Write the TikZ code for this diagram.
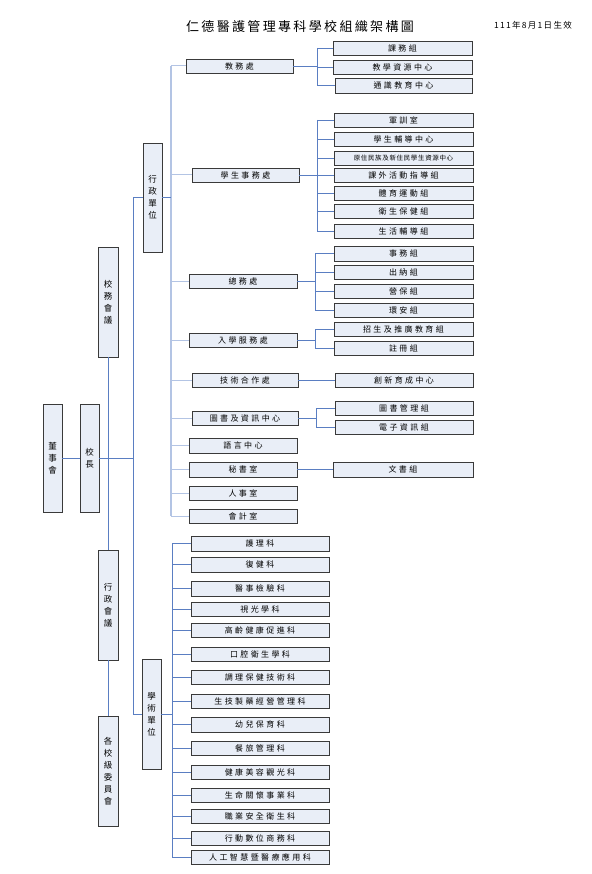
\documentclass[tikz,border=0pt]{standalone}
\usepackage{fontspec}
\setmainfont{Noto Sans CJK TC}
\definecolor{boxfill}{HTML}{E9EEF7}
\definecolor{lnblue}{HTML}{5A7EC2}
\definecolor{lnlight}{HTML}{B3C4E4}
\definecolor{bxedge}{HTML}{3A3A3A}
\newcommand\boxfont{\fontsize{8}{9}\selectfont\addfontfeature{LetterSpace=30}}
\newcommand\smallboxfont{\fontsize{6.5}{8}\selectfont\addfontfeature{LetterSpace=10}}
\newcommand\vfont{\fontsize{8.5}{12}\selectfont}
\newcommand\bx[7][]{\node[box,#1, minimum width={(#5-(#3))*1pt}, minimum height={(#6-(#4))*1pt}] (#2) at ({(#3+#5)/2},{(#4+#6)/2}) {#7};}
\begin{document}
\begin{tikzpicture}[x=1pt,y=-1pt,
  box/.style={draw=bxedge, fill=boxfill, line width=0.8pt, inner sep=0pt, font=\boxfont},
  vbox/.style={font=\vfont, align=center},
  conn/.style={draw=lnblue, line width=0.7pt},
  bus/.style={draw=lnlight, line width=1.5pt}]
\useasboundingbox (0,0) rectangle (591,874);
% titles
\node[font=\fontsize{13}{15}\selectfont\addfontfeature{LetterSpace=18}] (title) at (300,27) {仁德醫護管理專科學校組織架構圖};
\node[font=\fontsize{8.5}{10}\selectfont\addfontfeature{LetterSpace=15}] (date) at (533,25) {111年8月1日生效};
% left column
\bx[vbox]{dsh}{43}{404}{62}{512}{董\\事\\會}
\bx[vbox]{xz}{80}{404}{99}{512}{校\\長}
\bx[vbox]{xwh}{98}{247}{118}{357}{校\\務\\會\\議}
\bx[vbox]{xzh}{98}{550}{118}{660}{行\\政\\會\\議}
\bx[vbox]{gxj}{98}{716}{118}{826}{各\\校\\級\\委\\員\\會}
\bx[vbox]{xzd}{143}{143}{162}{252}{行\\政\\單\\位}
\bx[vbox]{xsd}{142}{659}{161}{769}{學\\術\\單\\位}
% admin level 2
\bx{jw}{186}{59}{293}{73}{教務處}
\bx{xs}{192}{168}{299}{182}{學生事務處}
\bx{zw}{189}{274}{297}{288}{總務處}
\bx{rx}{189}{333}{297}{347}{入學服務處}
\bx{jh}{192}{373}{298}{387}{技術合作處}
\bx{ts}{192}{411}{298}{425}{圖書及資訊中心}
\bx{yy}{189}{438}{297}{453}{語言中心}
\bx{ms}{189}{462}{297}{477}{秘書室}
\bx{rs}{189}{486}{297}{500}{人事室}
\bx{kj}{189}{509}{297}{523}{會計室}
% admin level 3
\bx{a1}{333}{41}{472}{55}{課務組}
\bx{a2}{333}{60}{472}{74}{教學資源中心}
\bx{a3}{335}{78}{472}{93}{通識教育中心}
\bx{b1}{334}{113}{473}{127}{軍訓室}
\bx{b2}{334}{132}{473}{146}{學生輔導中心}
\bx[font=\smallboxfont]{b3}{334}{151}{473}{165}{原住民族及新住民學生資源中心}
\bx{b4}{334}{168}{473}{182}{課外活動指導組}
\bx{b5}{334}{186}{473}{200}{體育運動組}
\bx{b6}{334}{204}{473}{218}{衛生保健組}
\bx{b7}{334}{224}{473}{238}{生活輔導組}
\bx{c1}{334}{246}{473}{261}{事務組}
\bx{c2}{334}{265}{473}{279}{出納組}
\bx{c3}{334}{284}{473}{298}{營保組}
\bx{c4}{334}{303}{473}{317}{環安組}
\bx{d1}{334}{322}{473}{336}{招生及推廣教育組}
\bx{d2}{334}{341}{473}{355}{註冊組}
\bx{e1}{335}{373}{473}{387}{創新育成中心}
\bx{f1}{335}{401}{473}{415}{圖書管理組}
\bx{f2}{335}{420}{473}{434}{電子資訊組}
\bx{g1}{333}{462}{473}{477}{文書組}
% academic
\bx{k1}{191}{536}{329}{551}{護理科}
\bx{k2}{191}{557}{329}{572}{復健科}
\bx{k3}{191}{581}{329}{596}{醫事檢驗科}
\bx{k4}{191}{602}{329}{616}{視光學科}
\bx{k5}{191}{623}{329}{637}{高齡健康促進科}
\bx{k6}{191}{647}{329}{661}{口腔衛生學科}
\bx{k7}{191}{670}{329}{684}{調理保健技術科}
\bx{k8}{191}{694}{329}{708}{生技製藥經營管理科}
\bx{k9}{191}{717}{329}{732}{幼兒保育科}
\bx{k10}{191}{741}{329}{755}{餐旅管理科}
\bx{k11}{191}{765}{329}{779}{健康美容觀光科}
\bx{k12}{191}{788}{329}{802}{生命關懷事業科}
\bx{k13}{191}{809}{329}{823}{職業安全衛生科}
\bx{k14}{191}{831}{329}{845}{行動數位商務科}
\bx{k15}{191}{850}{329}{864}{人工智慧暨醫療應用科}
% bus coordinates
\coordinate (spine) at (133,0);
\coordinate (ab) at (171,0);
\coordinate (kb) at (172,0);
\coordinate (jb) at (317,0);
\coordinate (sb) at (317,0);
\coordinate (zb) at (315,0);
\coordinate (tb) at (316,0);
% left connectors
\draw[conn] (dsh) -- (xz);
\draw[conn] (xz.east) -- (xz.east -| spine);
\draw[conn] (xwh) -- (xzh);
\draw[conn] (xzh) -- (gxj);
\draw[conn] (spine |- xzd.west) -- (spine |- xsd.west);
\draw[conn] (spine |- xzd.west) -- (xzd.west);
\draw[conn] (spine |- xsd.west) -- (xsd.west);
% admin bus
\draw[bus] (ab |- jw.west) -- (ab |- kj.west);
\draw[conn] (xzd.east) -- (xzd.east -| ab);
\foreach \n in {jw,xs,zw,rx,jh,ts,yy,ms,rs,kj}
  \draw[bus, line width=1pt] (ab |- \n.west) -- (\n.west);
% academic bus
\draw[conn] (kb |- k1.west) -- (kb |- k15.west);
\draw[conn] (xsd.east) -- (xsd.east -| kb);
\foreach \n in {k1,k2,k3,k4,k5,k6,k7,k8,k9,k10,k11,k12,k13,k14,k15}
  \draw[conn] (kb |- \n.west) -- (\n.west);
% level 3 groups
\draw[conn] (jw.east) -- (jw.east -| jb);
\draw[conn] (jb |- a1.west) -- (jb |- a3.west);
\foreach \n in {a1,a2,a3} \draw[conn] (jb |- \n.west) -- (\n.west);
\draw[conn] (xs.east) -- (xs.east -| sb);
\draw[conn] (sb |- b1.west) -- (sb |- b7.west);
\foreach \n in {b1,b2,b3,b4,b5,b6,b7} \draw[conn] (sb |- \n.west) -- (\n.west);
\draw[conn] (zw.east) -- (zw.east -| zb);
\draw[conn] (zb |- c1.west) -- (zb |- c4.west);
\foreach \n in {c1,c2,c3,c4} \draw[conn] (zb |- \n.west) -- (\n.west);
\draw[conn] (rx.east) -- (rx.east -| zb);
\draw[conn] (zb |- d1.west) -- (zb |- d2.west);
\foreach \n in {d1,d2} \draw[conn] (zb |- \n.west) -- (\n.west);
\draw[conn] (jh) -- (e1);
\draw[conn] (ts.east) -- (ts.east -| tb);
\draw[conn] (tb |- f1.west) -- (tb |- f2.west);
\foreach \n in {f1,f2} \draw[conn] (tb |- \n.west) -- (\n.west);
\draw[conn] (ms) -- (g1);
\end{tikzpicture}
\end{document}
